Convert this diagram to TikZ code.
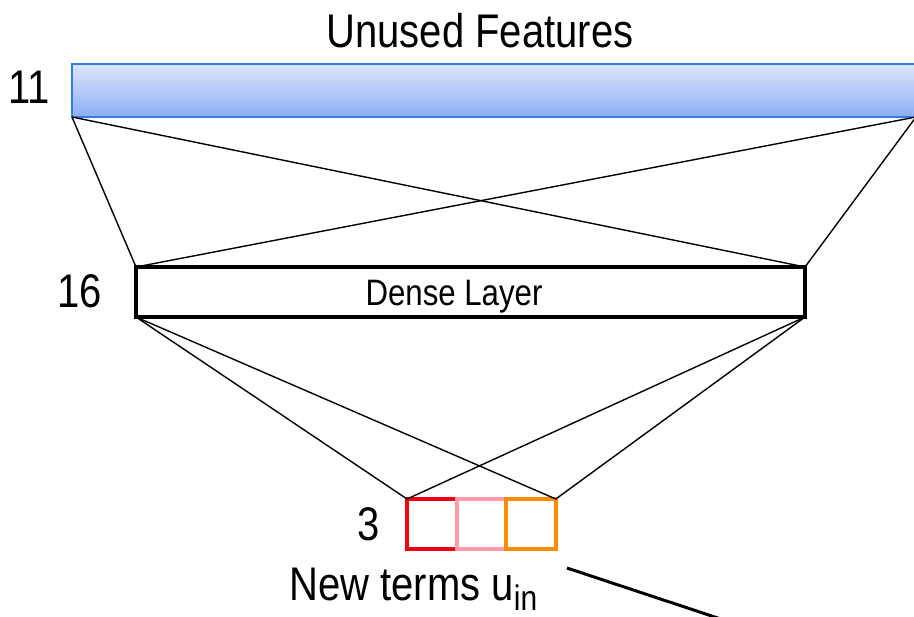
\documentclass[tikz,border=0pt]{standalone}
\usepackage{graphicx}
\usepackage{fontspec}
\setmainfont{Liberation Sans}
\usetikzlibrary{positioning}
\definecolor{bar-edge}{HTML}{2F7FE6}
\definecolor{bar-top}{HTML}{DCE5FA}
\definecolor{bar-bottom}{HTML}{8DAEF4}
\definecolor{term-red}{HTML}{F00010}
\definecolor{term-pink}{HTML}{FF9AAA}
\definecolor{term-orange}{HTML}{FF8C00}
\newcommand{\tallText}[1]{\scalebox{1}[1.18]{#1}}

\tikzset{
  layer/.style={draw, inner sep=0pt, outer sep=0pt},
  term/.style={draw, line width=2pt, inner sep=0pt, outer sep=0pt,
    minimum width=24.8pt, minimum height=25pt},
  wire/.style={line width=0.7pt, color=black},
}

\begin{document}
\begin{tikzpicture}[x=0.5pt, y=-0.5pt,
    every node/.style={font=\fontsize{20}{24}\selectfont}]
    \clip (0,0) rectangle (914,616);
    \node[layer, draw=bar-edge, line width=1.2pt, top color=bar-top,
      bottom color=bar-bottom, minimum width=422pt,
      minimum height=26.5pt] (unused) at (494,90.5) {};
    \node[layer, fill=white, line width=2pt, minimum width=334.5pt,
      minimum height=25pt] (dense) at (470.5,292) {};
    \node[term, draw=term-red] (ta) at (431.8,524) {};
    \node[term, draw=term-pink, right=0pt of ta] (tb) {};
    \node[term, draw=term-orange, right=0pt of tb] (tc) {};
    % layer sizes and names
    \node[anchor=base] (title) at (480,47) {\tallText{Unused Features}};
    \node[anchor=base] (n11) at (29,103) {\tallText{11}};
    \node[anchor=base] (n16) at (80,307) {\tallText{16}};
    \node[anchor=base, font=\fontsize{15.6}{18}\selectfont] (dlabel)
      at (454,305) {\tallText{Dense Layer}};
    \node[anchor=base] (n3) at (369,540) {\tallText{3}};
    \node[anchor=base west, inner sep=0pt] (newterms) at (289,600)
      {\tallText{New terms u\raisebox{-4.5pt}{\fontsize{15}{15}\selectfont in}}};
    % full connections between layers
    \draw[wire] (unused.south west) -- (dense.north west);
    \draw[wire] (unused.south east) -- (dense.north east);
    \draw[wire] (unused.south west) -- (dense.north east);
    \draw[wire] (unused.south east) -- (dense.north west);
    \draw[wire] (dense.south west) -- (ta.north west);
    \draw[wire] (dense.south east) -- (tc.north east);
    \draw[wire] (dense.south west) -- (tc.north east);
    \draw[wire] (dense.south east) -- (ta.north west);
    % pointer leaving the picture
    \coordinate (ptr) at (567,568);
    \coordinate (ptrend) at (760,632);
    \draw[line width=1.5pt] (ptr) -- (ptrend);
\end{tikzpicture}
\end{document}
